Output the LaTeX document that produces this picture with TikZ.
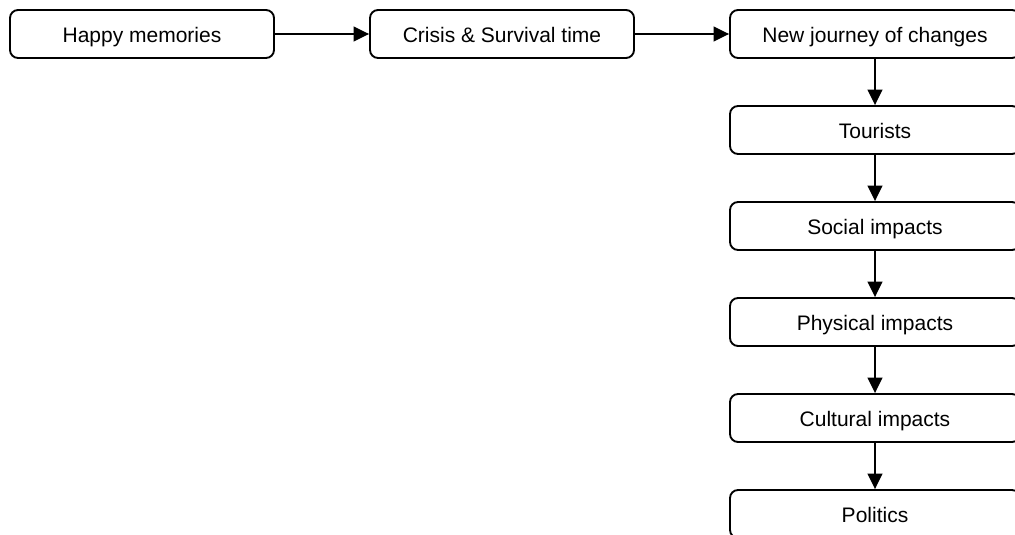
\documentclass[tikz,border=0pt]{standalone}
\usepackage{fontspec}
\setmainfont{Liberation Sans}
\usetikzlibrary{arrows.meta}
\begin{document}
\begin{tikzpicture}[x=0.75pt,y=-0.75pt,
  stage/.style={draw, line width=1.4pt, rounded corners=6pt, rectangle,
    minimum width=198pt, minimum height=36pt, inner sep=0pt,
    text height=12.8pt, text depth=0pt,
    font=\fontsize{15.75}{18}\selectfont},
  widestage/.style={stage, minimum width=217.5pt},
  flow/.style={line width=1.1pt, -{Triangle[length=11.5pt,width=11pt]}}]
  \clip (0,0) rectangle (1015,535);
  % top row
  \node[stage] (happy) at (142,34) {Happy memories};
  \node[stage] (crisis) at (502,34) {Crisis \& Survival time};
  \node[widestage] (journey) at (875,34) {New journey of changes};
  % right column
  \node[widestage] (tourists) at (875,130) {Tourists};
  \node[widestage] (social) at (875,226) {Social impacts};
  \node[widestage] (physical) at (875,322) {Physical impacts};
  \node[widestage] (cultural) at (875,418) {Cultural impacts};
  \node[widestage] (politics) at (875,514) {Politics};
  % connectors
  \draw[flow] (happy) -- (crisis);
  \draw[flow] (crisis) -- (journey);
  \draw[flow] (journey) -- (tourists);
  \draw[flow] (tourists) -- (social);
  \draw[flow] (social) -- (physical);
  \draw[flow] (physical) -- (cultural);
  \draw[flow] (cultural) -- (politics);
\end{tikzpicture}
\end{document}
